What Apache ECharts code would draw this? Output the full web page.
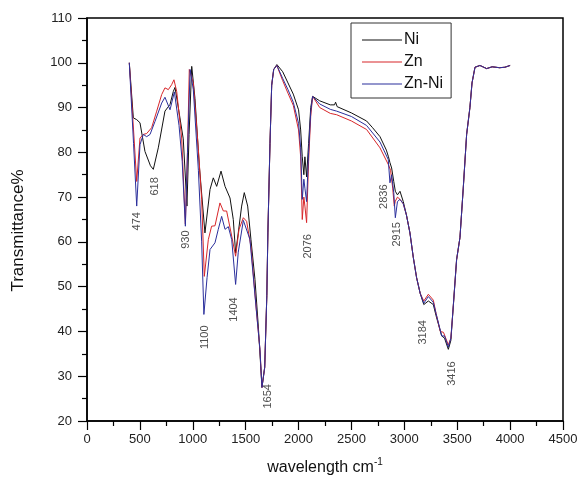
<!DOCTYPE html>
<html>
<head>
<meta charset="utf-8">
<script src="https://cdn.jsdelivr.net/npm/echarts@6/dist/echarts.min.js"></script>
<style>
html,body{margin:0;padding:0;background:#fff;}
#chart{width:581px;height:481px;}
</style>
</head>
<body>
<div id="chart"></div>
<script>
// ---- Data ----
var seriesNames = ['Ni', 'Zn', 'Zn-Ni'];

var niWave = [400,438,470,501,548,600,627,674,737,785,816,832,870,910,945,965,990,1021,1062,1115,1163,1194,1226,1267,1305,1352,1383,1405,1430,1462,1487,1519,1550,1588,1620,1654,1680,1700,1710,1730,1746,1765,1795,1850,1900,1950,2000,2020,2035,2050,2060,2076,2095,2115,2133,2200,2300,2340,2350,2365,2500,2643,2700,2770,2830,2850,2864,2880,2900,2915,2935,2959,2990,3020,3053,3085,3116,3150,3184,3227,3274,3300,3353,3380,3416,3440,3463,3494,3526,3557,3589,3620,3640,3668,3715,3778,3830,3900,3950,4000];
var niTrans = [100,87.7,87.3,86.6,80.2,77,76.2,81,89.2,90.7,93.6,94.5,89,83,68,84,99.2,92,77,62,71.7,74.3,72.4,75.8,72.4,69.8,65,57.5,62,68,71,68,60.5,51.6,41,27.5,32,48,62,82,95,98.5,99.6,98,95.5,93,89.5,85,79,75,79,74.5,82,90,92.5,91.5,90.6,90.6,91.2,90.2,88.8,87,85.5,83.5,80.5,79,77.7,76.5,73.5,71.3,70.5,71.3,69,66,62,56.5,52,48.5,46,46.8,46,43.5,39,38.5,36,38,45.7,56,61,72,84,90,95.5,99,99.4,98.7,99.1,98.9,99,99.4];

var znWave = [400,440,470,501,532,564,611,659,706,737,769,800,822,848,895,930,950,967,1005,1053,1084,1109,1147,1178,1210,1257,1289,1320,1368,1405,1437,1478,1509,1550,1600,1635,1654,1680,1700,1710,1730,1746,1765,1795,1850,1900,1950,2000,2020,2035,2050,2060,2076,2095,2115,2133,2200,2300,2360,2500,2643,2770,2848,2870,2890,2905,2915,2935,2959,2990,3020,3053,3085,3116,3150,3184,3227,3274,3300,3340,3370,3416,3440,3463,3494,3526,3557,3589,3620,3640,3668,3715,3778,3830,3900,3950,4000];
var znTrans = [100,85,73.5,83.2,84,84.2,85.5,89.2,92.9,94.4,94,95.1,96.2,93.6,83.2,64,80,98.5,95.5,80.6,69.5,52.3,60.5,63.5,63.6,68.7,66.9,66.9,61.3,56.8,62.8,65.4,64.6,58.9,45,36,27.5,32,48,62,82,95,98.5,99.4,96,93.2,90.5,85,79,65,70,68,64.3,78,88,92.5,90,88.7,88.4,87,85.1,81,77.3,76,72,68,69.1,70,69.5,68.5,66,62,56.5,52,48.5,46.8,48.3,47,44,40,39.8,37,38.5,45.7,56,61,72,84,90,95.5,99,99.4,98.7,99.1,98.9,99,99.4];

var znNiWave = [400,440,470,501,532,564,596,643,706,737,785,826,870,900,930,950,975,1005,1053,1084,1105,1135,1163,1210,1241,1273,1305,1336,1368,1405,1430,1478,1493,1540,1600,1635,1654,1680,1700,1710,1730,1746,1765,1795,1850,1900,1950,2000,2020,2035,2050,2060,2076,2095,2115,2133,2200,2300,2360,2500,2643,2770,2848,2864,2880,2900,2915,2935,2959,2990,3020,3053,3085,3116,3150,3184,3227,3274,3300,3353,3380,3416,3440,3463,3494,3526,3557,3589,3620,3640,3668,3715,3778,3830,3900,3950,4000];
var znNiTrans = [100,82,68,81.7,84,83.5,84,86.9,91,92.3,89.5,93.5,86,78,63.5,80,98.5,94,76,60,43.8,52,58.3,59.8,62.8,65.7,62.8,63.4,60.5,50.5,57.7,64.8,65,60.6,45,36,27.5,32,48,62,82,95,98.5,99.4,96.5,94,91.2,86.5,81,69.5,74,72,69,80,89,92.5,90.8,89.6,89.2,88,86,82.3,78.4,73.2,75,71,65.4,69,69.5,68.5,66,62,56.5,52,48.5,46.3,47.8,46.5,44,39,39,36.5,38.5,45.7,56,61,72,84,90,95.5,99,99.4,98.7,99.1,98.9,99,99.4];

// peak annotations: label text and where the label sits (data coordinates)
var peakLabels = ['474','618','930','1100','1404','1654','2076','2836','2915','3184','3416'];
var peakLabelX = [475,643,936,1115,1390,1708,2086,2810,2933,3173,3447];
var peakLabelY = [64.6,72.4,60.5,38.7,44.9,25.5,59,70.1,61.7,39.8,30.6];

var xTicks = {min: 0, max: 4500, interval: 500};
var yTicks = {min: 20, max: 110, interval: 10};

function zip(a, b) { return a.map(function (v, i) { return [v, b[i]]; }); }

var colors = ['#111111', '#d8262a', '#2b2f9c'];
var font = '"Liberation Sans", Arial, sans-serif';

var chart = echarts.init(document.getElementById('chart'), null, {renderer: 'canvas'});

var lineSeries = [zip(niWave, niTrans), zip(znWave, znTrans), zip(znNiWave, znNiTrans)].map(function (d, i) {
  return {
    name: seriesNames[i], type: 'line', data: d, symbol: 'none', showSymbol: false, smooth: false,
    lineStyle: {color: colors[i], width: 1}, itemStyle: {color: colors[i]},
    animation: false, z: 2 + i
  };
});

lineSeries.push({
  name: 'peaks', type: 'scatter', symbolSize: 0, animation: false, silent: true,
  data: peakLabels.map(function (t, i) { return {value: [peakLabelX[i], peakLabelY[i]], name: t}; }),
  label: {
    show: true, position: 'inside', rotate: 90, formatter: '{b}',
    fontFamily: font, fontSize: 11, color: '#222', align: 'center', verticalAlign: 'middle'
  },
  z: 10
});

function plain(v) { return String(v); }

chart.setOption({
  backgroundColor: '#fff',
  animation: false,
  grid: {left: 87, right: 18, top: 18, bottom: 59, show: true, borderColor: '#000', borderWidth: 1.5, backgroundColor: 'transparent'},
  legend: {
    data: seriesNames.map(function (n, i) { return {name: n, icon: 'rect', itemStyle: {color: colors[i]}}; }),
    orient: 'vertical', left: 351, top: 23,
    padding: [8, 8, 5, 11], itemGap: 4, itemWidth: 40, itemHeight: 1.2,
    borderColor: '#333', borderWidth: 1,
    textStyle: {fontFamily: font, fontSize: 16, color: '#111', lineHeight: 18, padding: [0, 0, 0, -3]}
  },
  xAxis: {
    type: 'value', min: xTicks.min, max: xTicks.max, interval: xTicks.interval,
    name: '{a|wavelength cm}{b|-1}', nameLocation: 'middle', nameGap: 36,
    nameTextStyle: {
      rich: {
        a: {fontFamily: font, fontSize: 16, color: '#111'},
        b: {fontFamily: font, fontSize: 10, color: '#111', padding: [0, 0, 12, 0]}
      }
    },
    axisLine: {show: true, onZero: false, lineStyle: {color: '#000', width: 1.5}},
    axisTick: {show: true, inside: false, length: 9, lineStyle: {color: '#000', width: 1.2}},
    minorTick: {show: true, splitNumber: 2, length: 5, lineStyle: {color: '#000', width: 1.2}},
    axisLabel: {fontFamily: font, fontSize: 13, color: '#222', margin: 12, formatter: plain},
    splitLine: {show: false}
  },
  yAxis: {
    type: 'value', min: yTicks.min, max: yTicks.max, interval: yTicks.interval,
    name: 'Transmittance%', nameLocation: 'middle', nameGap: 60,
    nameTextStyle: {fontFamily: font, fontSize: 17, color: '#111', padding: [0, 22, 0, 0]},
    axisLine: {show: true, onZero: false, lineStyle: {color: '#000', width: 1.5}},
    axisTick: {show: true, inside: false, length: 9, lineStyle: {color: '#000', width: 1.2}},
    minorTick: {show: true, splitNumber: 2, length: 5, lineStyle: {color: '#000', width: 1.2}},
    axisLabel: {fontFamily: font, fontSize: 13, color: '#222', margin: 15, formatter: plain},
    splitLine: {show: false}
  },
  series: lineSeries
});
</script>
</body>
</html>
